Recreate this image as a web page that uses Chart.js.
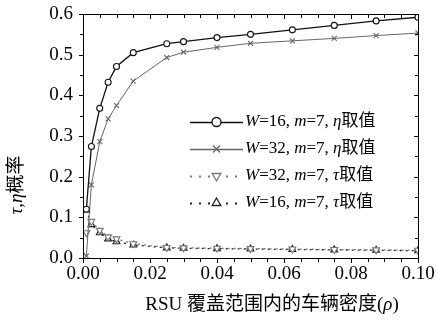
<!DOCTYPE html>
<html>
<head>
<meta charset="utf-8">
<script src="https://cdn.jsdelivr.net/npm/chart.js@4.4.1/dist/chart.umd.min.js"></script>
<style>
html,body{margin:0;padding:0;background:#fff;}
#wrap{width:436px;height:334px;position:relative;}
</style>
</head>
<body>
<div id="wrap"><canvas id="c" width="436" height="334"></canvas></div>
<script>
// ---- data ----
const density = [0.001, 0.0025, 0.005, 0.0075, 0.01, 0.015, 0.025, 0.03, 0.04, 0.05, 0.0625, 0.075, 0.0875, 0.1];
const etaW16 = [0.12, 0.274, 0.368, 0.432, 0.471, 0.505, 0.527, 0.532, 0.542, 0.550, 0.561, 0.572, 0.583, 0.592];
const etaW32 = [0.005, 0.18, 0.286, 0.342, 0.375, 0.435, 0.493, 0.506, 0.518, 0.528, 0.534, 0.540, 0.547, 0.553];
const tauW32 = [0.062, 0.09, 0.068, 0.052, 0.047, 0.035, 0.026, 0.025, 0.024, 0.023, 0.022, 0.021, 0.020, 0.019];
const tauW16 = [0.118, 0.082, 0.062, 0.047, 0.040, 0.032, 0.025, 0.024, 0.023, 0.022, 0.021, 0.020, 0.019, 0.018];
const xTickLabels = ['0.00', '0.02', '0.04', '0.06', '0.08', '0.10'];
const yTickLabels = ['0.0', '0.1', '0.2', '0.3', '0.4', '0.5', '0.6'];
const legendLabels = [
  [['W', true], ['=16, ', false], ['m', true], ['=7, ', false], ['η', true], ['取值', false]],
  [['W', true], ['=32, ', false], ['m', true], ['=7, ', false], ['η', true], ['取值', false]],
  [['W', true], ['=32, ', false], ['m', true], ['=7, ', false], ['τ', true], ['取值', false]],
  [['W', true], ['=16, ', false], ['m', true], ['=7, ', false], ['τ', true], ['取值', false]]
];
const xTitle = [['RSU 覆盖范围内的车辆密度(', false], ['ρ', true], [')', false]];
const yTitle = [['τ', true], [',', false], ['η', true], ['概率', false]];

const SERIF = '"Liberation Serif", "Noto Sans CJK SC", serif';

function pts(ys) { return density.map((x, i) => ({x: x, y: ys[i]})); }

const styles = [
  {color: '#111', width: 1.3, dash: [], point: 'circle', r: 3, rot: 0, lr: 4.5},
  {color: '#666', width: 1, dash: [], point: 'crossRot', r: 3.5, rot: 0, lr: 5},
  {color: '#777', width: 1.3, dash: [2, 4], point: 'triangle', r: 4, rot: 180, lr: 5},
  {color: '#222', width: 1.3, dash: [2, 4], point: 'triangle', r: 4, rot: 0, lr: 5}
];
const seriesData = [etaW16, etaW32, tauW32, tauW16];

function drawMixed(ctx, segs, x, y, size, align) {
  let total = 0;
  const widths = segs.map(s => {
    ctx.font = (s[1] ? 'italic ' : '') + size + 'px ' + SERIF;
    const w = ctx.measureText(s[0]).width; total += w; return w;
  });
  let cx = align === 'center' ? x - total / 2 : x;
  segs.forEach((s, i) => {
    ctx.font = (s[1] ? 'italic ' : '') + size + 'px ' + SERIF;
    ctx.fillText(s[0], cx, y);
    cx += widths[i];
  });
}

const decor = {
  id: 'decor',
  afterDraw(chart) {
    const ctx = chart.ctx;
    const a = chart.chartArea;
    const xs = chart.scales.x, ys = chart.scales.y;
    ctx.save();
    ctx.strokeStyle = '#000';
    ctx.lineWidth = 1;
    ctx.strokeRect(Math.round(a.left) + 0.5, Math.round(a.top) + 0.5, Math.round(a.right - a.left), Math.round(a.bottom - a.top));
    ctx.beginPath();
    for (let k = 0; k <= 20; k++) {
      const v = k * 0.005;
      const px = Math.round(xs.getPixelForValue(v)) + 0.5;
      const L = k % 4 === 0 ? 5 : 4;
      ctx.moveTo(px, a.bottom); ctx.lineTo(px, a.bottom + L);
      ctx.moveTo(px, a.top); ctx.lineTo(px, a.top + L);
    }
    for (let k = 0; k <= 12; k++) {
      const v = k * 0.05;
      const py = Math.round(ys.getPixelForValue(v)) + 0.5;
      const L = k % 2 === 0 ? 4 : 3;
      ctx.moveTo(a.left - L, py); ctx.lineTo(a.left, py);
      ctx.moveTo(a.right - L, py); ctx.lineTo(a.right, py);
    }
    ctx.stroke();

    // legend
    ctx.fillStyle = '#000';
    ctx.textBaseline = 'middle';
    const lx0 = 190, lx1 = 243, ly0 = 122, dy = 27;
    styles.forEach((s, i) => {
      const y = ly0 + i * dy;
      ctx.save();
      ctx.strokeStyle = s.color;
      ctx.lineWidth = i < 2 ? 1.5 : 2;
      if (i >= 2) ctx.setLineDash([2, 7]);
      ctx.beginPath(); ctx.moveTo(lx0, y + 0.5); ctx.lineTo(lx1, y + 0.5); ctx.stroke();
      ctx.restore();
      ctx.save();
      ctx.strokeStyle = s.color; ctx.fillStyle = '#fff'; ctx.lineWidth = 1.3;
      Chart.helpers.drawPoint(ctx, {pointStyle: s.point, radius: s.lr, rotation: s.rot, borderWidth: 1.3}, (lx0 + lx1) / 2, y);
      ctx.restore();
      ctx.fillStyle = '#000';
      drawMixed(ctx, legendLabels[i], lx1 + 2, y, 17, 'left');
    });

    // axis titles
    ctx.textBaseline = 'middle';
    drawMixed(ctx, xTitle, 272, 305, 19, 'center');
    ctx.save();
    ctx.translate(17, 185);
    ctx.rotate(-Math.PI / 2);
    drawMixed(ctx, yTitle, 0, 0, 19, 'center');
    ctx.restore();
    ctx.restore();
  }
};

new Chart(document.getElementById('c'), {
  type: 'line',
  data: {
    datasets: seriesData.map((d, i) => ({
      data: pts(d),
      borderColor: styles[i].color,
      borderWidth: styles[i].width,
      borderDash: styles[i].dash,
      pointStyle: styles[i].point,
      pointRadius: styles[i].r,
      pointRotation: styles[i].rot,
      pointBackgroundColor: '#fff',
      pointBorderColor: styles[i].color,
      pointBorderWidth: 1.1,
      tension: 0,
      fill: false
    }))
  },
  options: {
    responsive: false,
    animation: false,
    devicePixelRatio: 1,
    layout: {padding: {left: 0, right: 18, top: 14, bottom: 0}},
    plugins: {legend: {display: false}, tooltip: {enabled: false}},
    scales: {
      x: {
        type: 'linear', min: 0, max: 0.1,
        afterFit(s) { s.height = 76; s.paddingLeft = 0; s.paddingRight = 0; },
        grid: {display: false, drawTicks: false},
        border: {display: false},
        ticks: {
          stepSize: 0.02,
          padding: 5,
          color: '#000',
          font: {family: SERIF, size: 19},
          callback: (v) => { const k = Math.round(v / 0.02); return xTickLabels[k] !== undefined ? xTickLabels[k] : ''; }
        }
      },
      y: {
        type: 'linear', min: 0, max: 0.6,
        afterFit(s) { s.width = 83; s.paddingTop = 0; s.paddingBottom = 0; },
        grid: {display: false, drawTicks: false},
        border: {display: false},
        ticks: {
          stepSize: 0.1,
          padding: 10,
          color: '#000',
          font: {family: SERIF, size: 19},
          callback: (v) => { const k = Math.round(v / 0.1); return yTickLabels[k] !== undefined ? yTickLabels[k] : ''; }
        }
      }
    }
  },
  plugins: [decor]
});
</script>
</body>
</html>
